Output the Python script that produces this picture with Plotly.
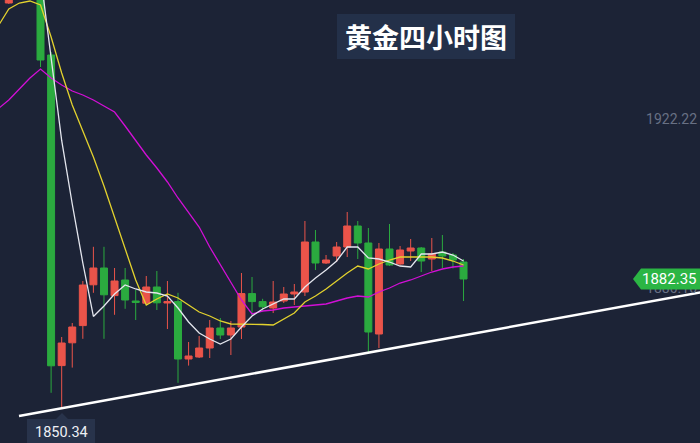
import plotly.graph_objects as go

# ---------------- data ----------------
idx = list(range(44))
opens = [1951.35, 1957.0, 1964.0, 1960.5, 1938.35, 1860.7, 1866.4, 1870.7, 1880.9, 1885.1,
         1878.2, 1882.1, 1876.85, 1876.3, 1880.35, 1876.35, 1876.7, 1862.35, 1862.85, 1865.1,
         1870.1, 1868.35, 1870.35, 1878.7, 1876.7, 1875.1, 1876.85, 1878.6, 1879.1, 1891.6,
         1886.35, 1888.1, 1890.35, 1895.6, 1891.35, 1868.6, 1889.85, 1886.1, 1889.35, 1890.1,
         1887.35, 1889.1, 1888.35, 1886.6]
highs = [1958.0, 1966.0, 1968.0, 1962.0, 1939.1, 1867.85, 1871.35, 1881.85, 1890.4, 1890.4,
         1885.1, 1885.1, 1879.6, 1883.1, 1884.35, 1881.85, 1878.9, 1866.6, 1868.1, 1872.1,
         1872.6, 1871.85, 1883.85, 1882.85, 1877.4, 1881.85, 1880.35, 1881.1, 1896.85, 1894.6,
         1888.35, 1891.6, 1899.1, 1896.85, 1895.1, 1891.35, 1896.1, 1890.6, 1892.35, 1890.35,
         1892.6, 1893.35, 1888.85, 1887.35]
lows = [1951.1, 1955.5, 1958.0, 1935.35, 1853.9, 1850.34, 1860.2, 1867.4, 1878.9, 1867.4,
        1873.4, 1874.9, 1872.1, 1876.1, 1874.6, 1869.85, 1856.4, 1860.7, 1862.6, 1862.6,
        1867.35, 1863.35, 1867.35, 1873.35, 1874.2, 1873.85, 1876.35, 1875.85, 1878.1, 1884.6,
        1886.1, 1886.6, 1887.85, 1887.35, 1864.1, 1865.1, 1885.6, 1885.9, 1886.85, 1884.1,
        1884.35, 1885.1, 1885.0, 1876.85]
closes = [1957.0, 1964.0, 1960.5, 1937.1, 1860.65, 1866.35, 1870.35, 1880.85, 1885.1, 1878.4,
          1881.85, 1877.1, 1876.5, 1880.35, 1876.4, 1876.7, 1862.35, 1863.1, 1865.1, 1870.1,
          1868.35, 1870.1, 1878.7, 1876.7, 1875.4, 1876.6, 1878.6, 1879.1, 1891.6, 1886.35,
          1887.1, 1890.35, 1895.6, 1891.35, 1869.1, 1889.85, 1885.85, 1889.6, 1890.1, 1886.85,
          1888.6, 1888.1, 1887.1, 1882.35]

ma_idx = list(range(-1, 44))
ma_white = [1955.0, 1957.10, 1962.10, 1964.60, 1958.35, 1937.70, 1916.98, 1901.10, 1886.35, 1872.98,
            1875.60, 1878.60, 1880.85, 1879.85, 1879.10, 1878.85, 1878.10, 1875.10, 1871.60, 1868.85,
            1867.35, 1866.10, 1867.35, 1870.35, 1873.10, 1874.85, 1876.10, 1877.35, 1877.35, 1880.35,
            1882.60, 1884.60, 1886.85, 1890.35, 1890.35, 1887.60, 1887.35, 1886.60, 1885.60, 1885.35,
            1888.60, 1888.60, 1889.10, 1888.35, 1886.85]
ma_yellow = [1945.60, 1949.85, 1951.35, 1951.85, 1950.85, 1942.85, 1933.85, 1925.85, 1919.35, 1912.85,
             1905.60, 1897.85, 1890.10, 1882.10, 1875.85, 1877.35, 1878.60, 1877.60, 1875.85, 1874.10,
             1873.10, 1871.85, 1871.10, 1871.10, 1871.10, 1870.98, 1870.85, 1872.35, 1873.85, 1876.60,
             1878.10, 1879.85, 1881.85, 1883.85, 1885.60, 1884.85, 1886.10, 1887.10, 1887.85, 1887.85,
             1887.85, 1887.85, 1887.60, 1886.85, 1885.85]
ma_magenta = [1924.93, 1927.10, 1929.85, 1932.60, 1934.85, 1932.60, 1930.85, 1929.35, 1928.35, 1927.10,
              1925.60, 1924.10, 1920.60, 1917.00, 1913.35, 1910.10, 1906.60, 1902.60, 1898.90, 1895.35,
              1890.35, 1885.85, 1881.45, 1877.10, 1873.60, 1874.35, 1874.60, 1875.10, 1875.35, 1875.60,
              1875.85, 1876.10, 1876.85, 1877.60, 1878.10, 1877.85, 1879.10, 1880.10, 1881.35, 1882.10,
              1883.10, 1884.10, 1884.85, 1885.35, 1885.60]

trend_x = [0.965, 66.0]
trend_y = [1848.1, 1879.3]

tick_vals = [1922.22, 1880.10]
tick_text = ["1922.22", "1880.10"]
last_price = 1882.35
low_price = 1850.34
title_text = "黄金四小时图"

# ---------------- styling ----------------
BG = "#1c2336"
RED = "#ea544a"
GREEN = "#2baa3f"

fig = go.Figure()
fig.add_trace(go.Candlestick(
    x=idx, open=opens, high=highs, low=lows, close=closes,
    increasing=dict(line=dict(color=RED, width=1), fillcolor=RED),
    decreasing=dict(line=dict(color=GREEN, width=1), fillcolor=GREEN),
    whiskerwidth=0, showlegend=False, hoverinfo="skip"))
fig.add_trace(go.Scatter(x=trend_x, y=trend_y, mode="lines",
                         line=dict(color="#ffffff", width=2.5), showlegend=False, hoverinfo="skip"))
fig.add_trace(go.Scatter(x=ma_idx, y=ma_magenta, mode="lines",
                         line=dict(color="#d20fd6", width=1.3), showlegend=False, hoverinfo="skip"))
fig.add_trace(go.Scatter(x=ma_idx, y=ma_yellow, mode="lines",
                         line=dict(color="#e3d22e", width=1.3), showlegend=False, hoverinfo="skip"))
fig.add_trace(go.Scatter(x=ma_idx, y=ma_white, mode="lines",
                         line=dict(color="#e4e6ee", width=1.3), showlegend=False, hoverinfo="skip"))

W, H = 700, 443
def px(x):
    return x / W
def py(y):
    return 1 - y / H

shapes = [
    # title box
    dict(type="rect", xref="paper", yref="paper", x0=px(337), x1=px(515), y0=py(59), y1=py(14),
         fillcolor="#233049", line=dict(width=0), layer="above"),
    # last price tag
    dict(type="path", xref="paper", yref="y",
         path=f"M {px(633)} {last_price} L {px(641)} {last_price + 2.6} L 1 {last_price + 2.6} "
              f"L 1 {last_price - 2.6} L {px(641)} {last_price - 2.6} Z",
         fillcolor="#2bb544", line=dict(width=0), layer="above"),
    # low price tag
    dict(type="path", xref="paper", yref="paper",
         path=f"M {px(56)} {py(419)} L {px(62)} {py(413)} L {px(68)} {py(419)} L {px(95)} {py(419)} "
              f"L {px(95)} 0 L {px(27)} 0 L {px(27)} {py(419)} Z",
         fillcolor="#28334b", line=dict(width=0), layer="above"),
]

annotations = [
    dict(text=f"<b>{title_text}</b>", xref="paper", yref="paper", x=px(426), y=py(37),
         showarrow=False, font=dict(family="Noto Sans CJK SC", size=27, color="#ffffff"),
         xanchor="center", yanchor="middle"),
    dict(text=f"{last_price:.2f}", xref="paper", yref="y", x=px(699), y=last_price,
         showarrow=False, font=dict(family="Roboto, Arial", size=15, color="#ffffff"),
         xanchor="right", yanchor="middle"),
    dict(text=f"{low_price:.2f}", xref="paper", yref="paper", x=px(61), y=py(432),
         showarrow=False, font=dict(family="Roboto, Arial", size=14.5, color="#eef0f5"),
         xanchor="center", yanchor="middle"),
]

fig.update_layout(
    width=W, height=H, margin=dict(l=0, r=0, t=0, b=0),
    paper_bgcolor=BG, plot_bgcolor=BG,
    boxgap=0.34, boxgroupgap=0,
    shapes=shapes, annotations=annotations,
    xaxis=dict(range=[-0.832, 65.36], visible=False, rangeslider=dict(visible=False),
               showgrid=False, zeroline=False),
    yaxis=dict(range=[1841.35, 1952.1], side="right", ticklabelposition="inside",
               tickvals=tick_vals, ticktext=tick_text, showgrid=False, zeroline=False,
               showline=False, ticks="", ticklabelstandoff=0,
               tickfont=dict(family="Roboto, Arial", size=14, color="#687084")),
)

fig.write_html("out.html", config=dict(displayModeBar=False),
               post_script="document.body.style.margin='0';")
